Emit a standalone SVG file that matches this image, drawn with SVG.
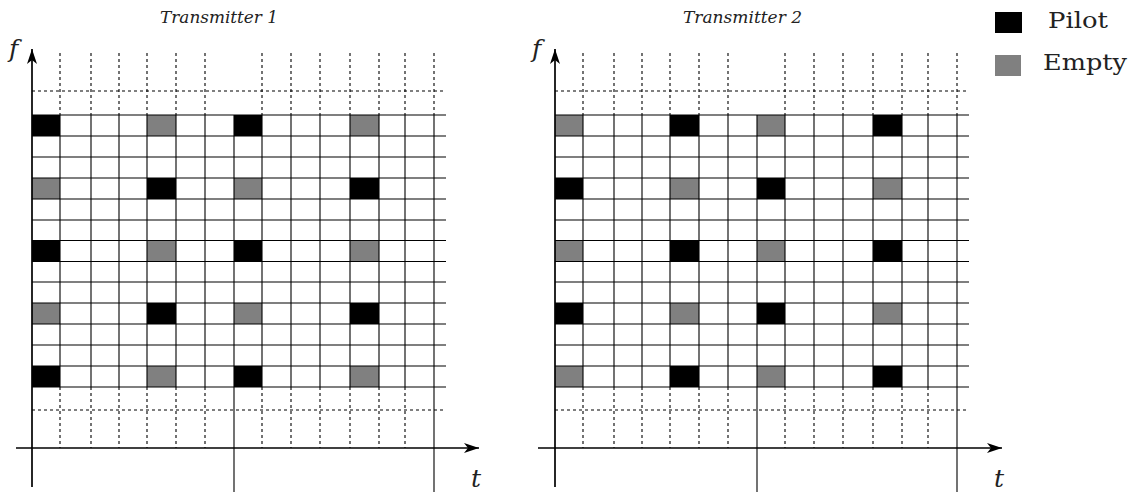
<svg xmlns="http://www.w3.org/2000/svg" xmlns:xlink="http://www.w3.org/1999/xlink" width="1140" height="494" viewBox="0 0 1140 494">
<style>
.bg{fill:#fff}
.p{fill:#000}
.e{fill:#808080}
.solid{stroke:#000;stroke-width:1.1;fill:none}
.dash{stroke:#000;stroke-width:1.1;stroke-dasharray:3 3;fill:none}
.axis{stroke:#000;stroke-width:1.7;fill:none}
.title{font-family:"DejaVu Serif","Liberation Serif","Times New Roman",serif;font-style:italic;font-size:16.5px;fill:#222}
.var{font-family:"DejaVu Serif","Liberation Serif","Times New Roman",serif;font-style:italic;font-size:25px;fill:#222}
.leg{font-family:"DejaVu Serif","Liberation Serif","Times New Roman",serif;font-size:23px;fill:#222}
</style>
<defs>
<marker id="arr" markerUnits="userSpaceOnUse" markerWidth="18" markerHeight="12" refX="15" refY="5" orient="auto">
<path d="M0,0 L15,5 L0,10 L4,5 Z" fill="#000"/>
</marker>
<g id="gridlines">
<path class="solid" d="M32 115H446M32 136H446M32 157H446M32 178H446M32 199H446M32 220H446M32 240.5H446M32 261.5H446M32 282H446M32 303H446M32 324H446M32 345H446M32 366H446M32 387H446"/>
<path class="solid" d="M60 115V387M91 115V387M119 115V387M147 115V387M176 115V387M205 115V387M262 115V387M291 115V387M320 115V387M350 115V387M379 115V387M405 115V387M234 115V492M434 115V492"/>
<path class="dash" d="M60 53V115M91 53V115M119 53V115M147 53V115M176 53V115M205 53V115M262 53V115M291 53V115M320 53V115M350 53V115M379 53V115M405 53V115M434 53V115"/>
<path class="dash" d="M60 387V448M91 387V448M119 387V448M147 387V448M176 387V448M205 387V448M262 387V448M291 387V448M320 387V448M350 387V448M379 387V448M405 387V448"/>
<path class="dash" d="M32 91H446M32 410H446"/>
</g>
</defs>
<rect class="bg" x="0" y="0" width="1140" height="494"/>

<g id="transmitter1">
<text class="title" x="160" y="23" textLength="118" lengthAdjust="spacingAndGlyphs">Transmitter 1</text>
<g id="t1-cells">
<rect class="p" x="32" y="115" width="28" height="21"/><rect class="e" x="147" y="115" width="29" height="21"/><rect class="p" x="234" y="115" width="28" height="21"/><rect class="e" x="350" y="115" width="29" height="21"/>
<rect class="e" x="32" y="178" width="28" height="21"/><rect class="p" x="147" y="178" width="29" height="21"/><rect class="e" x="234" y="178" width="28" height="21"/><rect class="p" x="350" y="178" width="29" height="21"/>
<rect class="p" x="32" y="240.5" width="28" height="21"/><rect class="e" x="147" y="240.5" width="29" height="21"/><rect class="p" x="234" y="240.5" width="28" height="21"/><rect class="e" x="350" y="240.5" width="29" height="21"/>
<rect class="e" x="32" y="303" width="28" height="21"/><rect class="p" x="147" y="303" width="29" height="21"/><rect class="e" x="234" y="303" width="28" height="21"/><rect class="p" x="350" y="303" width="29" height="21"/>
<rect class="p" x="32" y="366" width="28" height="21"/><rect class="e" x="147" y="366" width="29" height="21"/><rect class="p" x="234" y="366" width="28" height="21"/><rect class="e" x="350" y="366" width="29" height="21"/>
</g>
<use xlink:href="#gridlines" href="#gridlines"/>
<text class="var" x="9" y="57">f</text>
<text class="var" x="471" y="487">t</text>
</g>

<g id="transmitter2">
<text class="title" x="683" y="23" textLength="119" lengthAdjust="spacingAndGlyphs">Transmitter 2</text>
<g id="t2-cells" transform="translate(523,0)">
<rect class="e" x="32" y="115" width="28" height="21"/><rect class="p" x="147" y="115" width="29" height="21"/><rect class="e" x="234" y="115" width="28" height="21"/><rect class="p" x="350" y="115" width="29" height="21"/>
<rect class="p" x="32" y="178" width="28" height="21"/><rect class="e" x="147" y="178" width="29" height="21"/><rect class="p" x="234" y="178" width="28" height="21"/><rect class="e" x="350" y="178" width="29" height="21"/>
<rect class="e" x="32" y="240.5" width="28" height="21"/><rect class="p" x="147" y="240.5" width="29" height="21"/><rect class="e" x="234" y="240.5" width="28" height="21"/><rect class="p" x="350" y="240.5" width="29" height="21"/>
<rect class="p" x="32" y="303" width="28" height="21"/><rect class="e" x="147" y="303" width="29" height="21"/><rect class="p" x="234" y="303" width="28" height="21"/><rect class="e" x="350" y="303" width="29" height="21"/>
<rect class="e" x="32" y="366" width="28" height="21"/><rect class="p" x="147" y="366" width="29" height="21"/><rect class="e" x="234" y="366" width="28" height="21"/><rect class="p" x="350" y="366" width="29" height="21"/>
</g>
<use xlink:href="#gridlines" href="#gridlines" transform="translate(523,0)"/>
<text class="var" x="532" y="57">f</text>
<text class="var" x="994" y="487">t</text>
</g>

<g id="legend">
<rect class="p" x="995" y="12" width="27" height="21"/>
<text class="leg" x="1048" y="28" textLength="60" lengthAdjust="spacingAndGlyphs">Pilot</text>
<rect class="e" x="995" y="55" width="26" height="21"/>
<text class="leg" x="1043" y="70" textLength="84" lengthAdjust="spacingAndGlyphs">Empty</text>
</g>

<g id="connectors">
<path class="axis" d="M32 487V49" marker-end="url(#arr)"/>
<path class="axis" d="M16 448H479" marker-end="url(#arr)"/>
<path class="axis" d="M555 487V49" marker-end="url(#arr)"/>
<path class="axis" d="M538 448H1002" marker-end="url(#arr)"/>
</g>
</svg>
